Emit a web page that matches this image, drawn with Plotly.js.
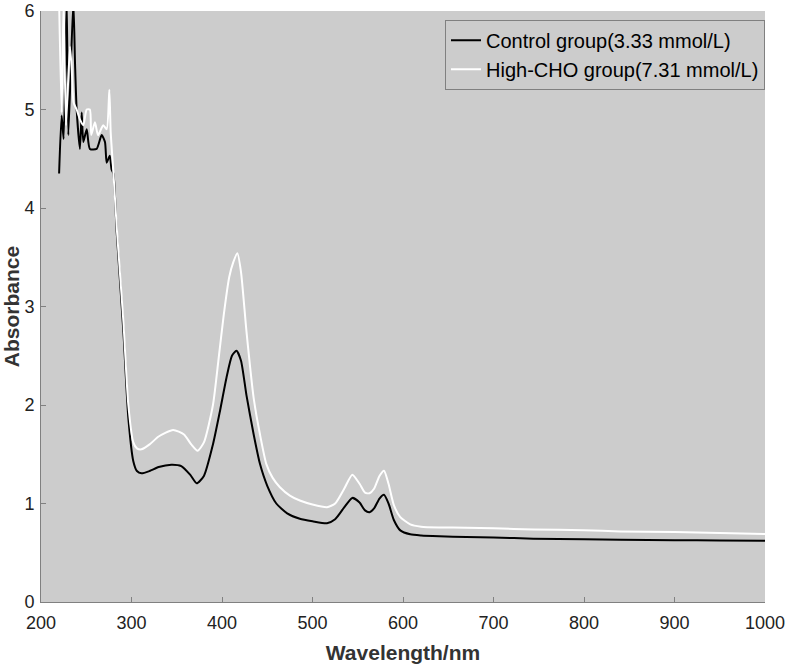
<!DOCTYPE html>
<html>
<head>
<meta charset="utf-8">
<script src="https://cdn.plot.ly/plotly-3.0.1.min.js"></script>
<style>
  html, body { margin: 0; padding: 0; background: #fff; }
  #chart { width: 787px; height: 669px; }
</style>
</head>
<body>
<div id="chart"></div>
<script>
// values
const controlWavelength = [220, 222.8, 225, 228.4, 230.2, 235.7, 237.6, 239.4, 243, 245,
  246.8, 250.5, 254, 261.5, 267, 270.7, 272.6, 276, 278, 280,
  283.6, 291, 296.5, 302, 306, 311, 320, 330, 344, 355,
  365, 372, 380, 390, 398, 405, 411, 416, 421, 427,
  435, 442, 450, 460, 472, 486, 500, 516, 525, 535,
  544, 552, 558, 563, 568, 574, 579, 584, 590, 597,
  608, 620, 640, 670, 700, 744, 800, 840, 900, 950, 1000];
const controlAbs = [4.35, 4.94, 4.70, 6.1, 4.74, 6.1, 5.47, 5.0, 4.6, 4.97,
  4.67, 4.8, 4.6, 4.6, 4.74, 4.67, 4.46, 4.53, 4.39, 4.35,
  3.76, 2.75, 1.87, 1.43, 1.33, 1.306, 1.33, 1.37, 1.394, 1.38,
  1.29, 1.205, 1.28, 1.6, 1.95, 2.28, 2.5, 2.55, 2.45, 2.1,
  1.7, 1.40, 1.18, 1.0, 0.9, 0.845, 0.82, 0.80, 0.84, 0.96,
  1.057, 1.01, 0.93, 0.912, 0.95, 1.05, 1.088, 1.0, 0.83, 0.727,
  0.687, 0.675, 0.667, 0.66, 0.655, 0.643, 0.638, 0.633, 0.628, 0.625, 0.622];

const highWavelength = [220, 222.8, 225, 227.6, 232, 234, 236, 239.4, 243, 246.8,
  250.5, 254, 255.5, 259.6, 263, 268.8, 272.6, 275.5, 277, 280,
  282, 284, 291, 296.5, 302, 306, 311, 320, 330, 346,
  358, 366, 373, 380, 390, 396, 402, 408, 412.5, 417,
  421, 427, 435, 442, 449, 456, 464, 475, 486, 500,
  516, 525, 535, 544, 552, 558, 563, 568, 574, 579,
  584, 590, 597, 608, 620, 640, 670, 700, 744, 800,
  840, 900, 950, 1000];
const highAbs = [6.1, 4.97, 6.1, 4.84, 5.64, 5.4, 5.07, 5.0, 4.9, 4.84,
  5.0, 5.0, 4.74, 4.87, 4.74, 4.84, 4.8, 5.2, 4.77, 4.36,
  4.06, 3.76, 2.85, 2.0, 1.62, 1.56, 1.55, 1.6, 1.68, 1.747,
  1.70, 1.60, 1.535, 1.62, 2.0, 2.45, 2.92, 3.3, 3.45, 3.54,
  3.35, 2.75, 2.07, 1.7, 1.40, 1.26, 1.165, 1.08, 1.03, 0.99,
  0.963, 1.0, 1.15, 1.293, 1.2, 1.11, 1.104, 1.15, 1.28, 1.333,
  1.2, 0.98, 0.862, 0.788, 0.765, 0.757, 0.754, 0.748, 0.737, 0.728,
  0.717, 0.71, 0.70, 0.69];

const xTicks = [200, 300, 400, 500, 600, 700, 800, 900, 1000];
const yTicks = [0, 1, 2, 3, 4, 5, 6];

const font = 'Arial, "Liberation Sans", sans-serif';

const traceControl = {
  x: controlWavelength,
  y: controlAbs,
  mode: 'lines',
  name: 'Control group(3.33 mmol/L)',
  line: { color: '#000000', width: 2, shape: 'spline', smoothing: 0.6 }
};

const traceHigh = {
  x: highWavelength,
  y: highAbs,
  mode: 'lines',
  name: 'High-CHO group(7.31 mmol/L)',
  line: { color: '#ffffff', width: 2, shape: 'spline', smoothing: 0.6 }
};

const layout = {
  width: 787,
  height: 669,
  margin: { l: 41, r: 22, t: 11, b: 67 },
  paper_bgcolor: '#ffffff',
  plot_bgcolor: '#cccccc',
  font: { family: font, size: 18, color: '#222' },
  showlegend: true,
  legend: {
    x: 1, y: 0.985, xanchor: 'right', yanchor: 'top',
    bgcolor: '#cccccc', bordercolor: '#808080', borderwidth: 1,
    font: { family: font, size: 20, color: '#000' },
    tracegroupgap: 0
  },
  xaxis: {
    range: [200, 1000],
    tickvals: xTicks,
    ticks: 'inside', ticklen: 5, tickcolor: '#808080',
    showline: true, linecolor: '#808080', linewidth: 1,
    showgrid: false, zeroline: false,
    ticklabelstandoff: 4,
    tickfont: { family: font, size: 18, color: '#222' },
    title: { text: '<b>Wavelength/nm</b>', font: { family: font, size: 21, color: '#333' }, standoff: 13 }
  },
  yaxis: {
    range: [0, 6],
    tickvals: yTicks,
    ticks: 'inside', ticklen: 5, tickcolor: '#808080',
    showline: true, linecolor: '#808080', linewidth: 1,
    showgrid: false, zeroline: false,
    ticklabeloverflow: 'allow',
    ticklabelstandoff: 2,
    tickfont: { family: font, size: 18, color: '#222' },
    title: { text: '<b>Absorbance</b>', font: { family: font, size: 21, color: '#333' }, standoff: 2 }
  }
};

Plotly.newPlot('chart', [traceControl, traceHigh], layout, { displayModeBar: false, staticPlot: true });
</script>
</body>
</html>
